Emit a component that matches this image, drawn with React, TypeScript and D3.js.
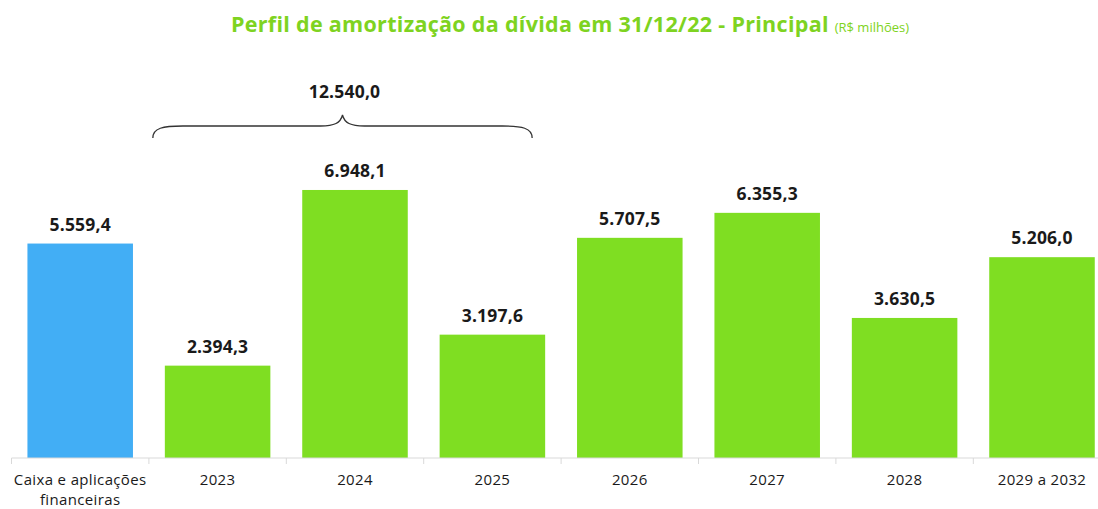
import React from "react";
import * as d3 from "d3";

const categories = ["Caixa e aplicações\nfinanceiras", "2023", "2024", "2025", "2026", "2027", "2028", "2029 a 2032"];
const values = [5559.4, 2394.3, 6948.1, 3197.6, 5707.5, 6355.3, 3630.5, 5206.0];
const barColors = ["#42aef5", "#7fde22", "#7fde22", "#7fde22", "#7fde22", "#7fde22", "#7fde22", "#7fde22"];
const braceGroup = ["2023", "2024", "2025"];
const titleMain = "Perfil de amortização da dívida em 31/12/22 - Principal";
const titleUnit = "(R$ milhões)";

const W = 1098;
const H = 509;
const FONT = "'Open Sans', sans-serif";

const locale = d3.formatLocale({ decimal: ",", thousands: ".", grouping: [3], currency: ["R$", ""] });
const fmt = locale.format(",.1f");

export default function App() {
  const step = 137.4;
  const x = d3
    .scaleBand<string>()
    .domain(categories)
    .range([11.5, 11.5 + step * categories.length])
    .paddingInner(0.232)
    .paddingOuter(0.116);
  const y = d3.scaleLinear().domain([0, 8000]).range([458, 149.4]);
  const bw = x.bandwidth();
  const axisY = y(0);

  const braceTotal = braceGroup.reduce((s, c) => s + values[categories.indexOf(c)], 0);
  const bx0 = (x(braceGroup[0]) as number) - 12;
  const bx1 = (x(braceGroup[braceGroup.length - 1]) as number) + bw - 13;
  const bcx = (bx0 + bx1) / 2;
  const yEnd = 138, yFlat = 126, yTip = 115;
  const bracePath = [
    `M${bx0},${yEnd}`,
    `C${bx0},${yFlat + 2} ${bx0 + 10},${yFlat} ${bx0 + 30},${yFlat}`,
    `L${bcx - 22},${yFlat}`,
    `C${bcx - 8},${yFlat} ${bcx - 2},${yFlat - 3} ${bcx},${yTip}`,
    `C${bcx + 2},${yFlat - 3} ${bcx + 8},${yFlat} ${bcx + 22},${yFlat}`,
    `L${bx1 - 30},${yFlat}`,
    `C${bx1 - 10},${yFlat} ${bx1},${yFlat + 2} ${bx1},${yEnd}`,
  ].join(" ");

  const tickXs = d3.range(categories.length + 1).map((i) => 11.5 + i * step);

  return (
    <svg width={W} height={H} style={{ position: "absolute", left: 0, top: 0, background: "#fff" }} fontFamily={FONT}>
      <text x={570} y={32} textAnchor="middle" fill="#7ed321">
        <tspan fontWeight="bold" fontSize={21.5} letterSpacing={0.3}>{titleMain} </tspan>
        <tspan fontSize={13}>{titleUnit}</tspan>
      </text>

      {categories.map((c, i) => (
        <rect key={c} x={x(c)} y={y(values[i])} width={bw} height={axisY - y(values[i])} fill={barColors[i]} />
      ))}

      {categories.map((c, i) => (
        <text
          key={"v" + c}
          x={(x(c) as number) + bw / 2}
          y={y(values[i]) - 13}
          textAnchor="middle"
          fontWeight="bold"
          fontSize={17.5}
          letterSpacing={0.2}
          fill="#1a1a1a"
        >
          {fmt(values[i])}
        </text>
      ))}

      <line x1={11.5} x2={W} y1={axisY} y2={axisY} stroke="#d9d9d9" strokeWidth={1} />
      {tickXs.map((tx, i) => (
        <line key={"t" + i} x1={tx} x2={tx} y1={axisY} y2={axisY + 6} stroke="#d9d9d9" strokeWidth={1} />
      ))}

      {categories.map((c) => {
        const lines = c.split("\n");
        return (
          <text key={"l" + c} x={(x(c) as number) + bw / 2} y={484.5} textAnchor="middle" fontSize={15} letterSpacing={0.35} fill="#1a1a1a">
            {lines.map((ln, j) => (
              <tspan key={j} x={(x(c) as number) + bw / 2} dy={j === 0 ? 0 : 20.5}>
                {ln}
              </tspan>
            ))}
          </text>
        );
      })}

      <path d={bracePath} fill="none" stroke="#333" strokeWidth={1.3} />
      <text x={bcx + 2} y={98} textAnchor="middle" fontWeight="bold" fontSize={17.5} letterSpacing={0.2} fill="#1a1a1a">
        {fmt(braceTotal)}
      </text>
    </svg>
  );
}
